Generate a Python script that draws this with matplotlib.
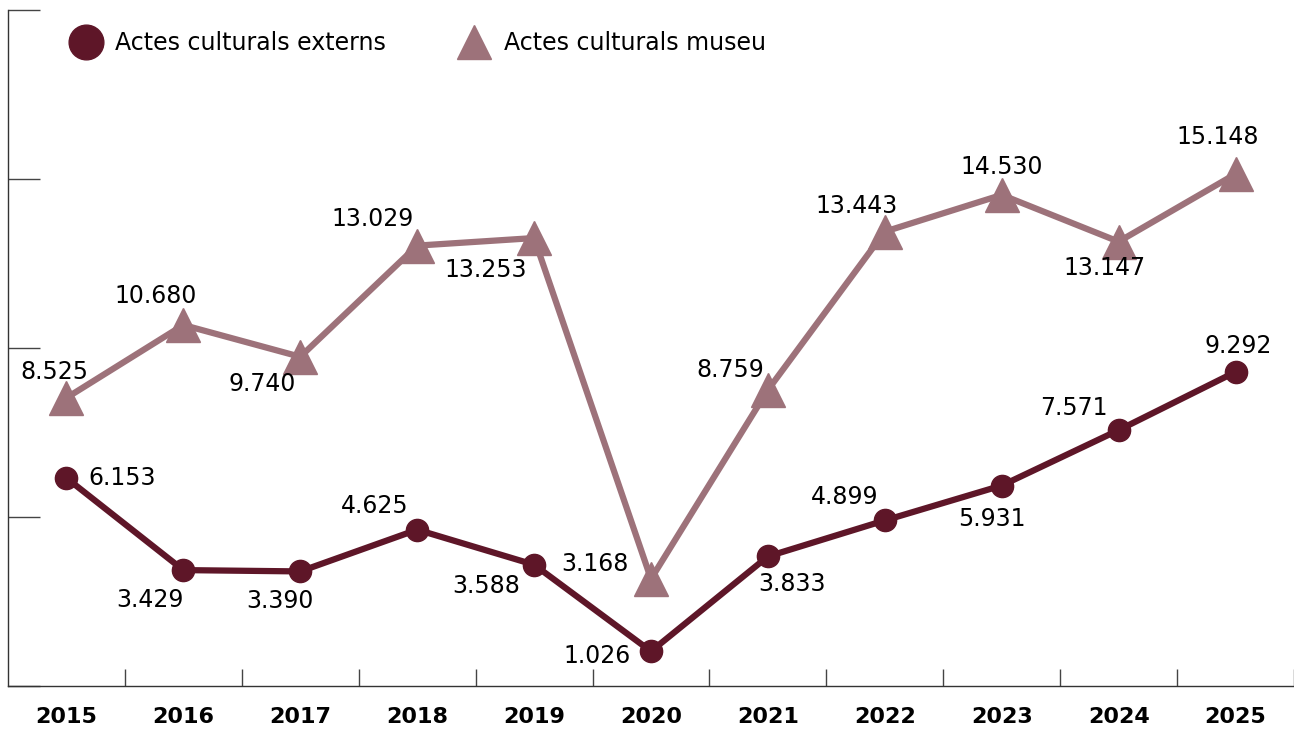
import matplotlib.pyplot as plt
from matplotlib.lines import Line2D

years = ['2015', '2016', '2017', '2018', '2019', '2020', '2021', '2022', '2023', '2024', '2025']
externs = [6153, 3429, 3390, 4625, 3588, 1026, 3833, 4899, 5931, 7571, 9292]
museu = [8525, 10680, 9740, 13029, 13253, 3168, 8759, 13443, 14530, 13147, 15148]
externs_labels = ['6.153', '3.429', '3.390', '4.625', '3.588', '1.026', '3.833', '4.899', '5.931', '7.571', '9.292']
museu_labels = ['8.525', '10.680', '9.740', '13.029', '13.253', '3.168', '8.759', '13.443', '14.530', '13.147', '15.148']

# label offsets in pixels (dx, dy)
externs_off = [(56, 0), (-33, -30), (-20, -30), (-42, 24), (-48, -21), (-54, -5),
               (24, -28), (-40, 23), (-10, -33), (-45, 22), (3, 26)]
museu_off = [(-12, 26), (-28, 29), (-38, -27), (-45, 27), (-48, -32), (-56, 15),
             (-38, 20), (-28, 26), (0, 28), (-14, -26), (-18, 37)]

c_ext = '#5e1628'
c_mus = '#9d727a'


def main():
    plt.rcParams['font.family'] = ['DejaVu Sans']
    fig = plt.figure(figsize=(12.94, 7.31), dpi=100)
    ax = fig.add_axes([8 / 1294, 45 / 731, 1 - 8 / 1294, 676 / 731])
    x = list(range(len(years)))

    ax.plot(x, museu, color=c_mus, lw=4.5, marker='^', ms=25, zorder=3)
    ax.plot(x, externs, color=c_ext, lw=4.5, marker='o', ms=16, zorder=4)

    for i in x:
        ax.annotate(externs_labels[i], (x[i], externs[i]), xytext=externs_off[i],
                    textcoords='offset pixels', ha='center', va='center', fontsize=17)
        ax.annotate(museu_labels[i], (x[i], museu[i]), xytext=museu_off[i],
                    textcoords='offset pixels', ha='center', va='center', fontsize=17)

    ax.set_xlim(-0.5, 10.5)
    ax.set_ylim(0, 20000)
    ax.set_xticks(x)
    ax.set_xticklabels(years, fontsize=16, fontweight='bold')
    ax.set_xticks([i + 0.5 for i in x], minor=True)
    ax.tick_params(axis='x', which='major', length=0, pad=15)
    ax.tick_params(axis='x', which='minor', direction='in', length=12, width=1, color='#444444')
    ax.set_yticks([0, 5000, 10000, 15000, 20000])
    ax.set_yticklabels([])
    ax.tick_params(axis='y', direction='in', length=23, width=1, color='#444444')
    for s in ['top', 'right']:
        ax.spines[s].set_visible(False)
    for s in ['left', 'bottom']:
        ax.spines[s].set_color('#333333')
        ax.spines[s].set_linewidth(1)

    handles = [Line2D([], [], color=c_ext, marker='o', ms=25, ls='none'),
               Line2D([], [], color=c_mus, marker='^', ms=25, ls='none')]
    ax.legend(handles, ['Actes culturals externs', 'Actes culturals museu'], ncol=2,
              loc='upper left', bbox_to_anchor=(0.03, 1.0), frameon=False, fontsize=17,
              handletextpad=0.5, columnspacing=3.0, handlelength=1.5)

    fig.savefig('out.png', dpi=100)


if __name__ == '__main__':
    main()
